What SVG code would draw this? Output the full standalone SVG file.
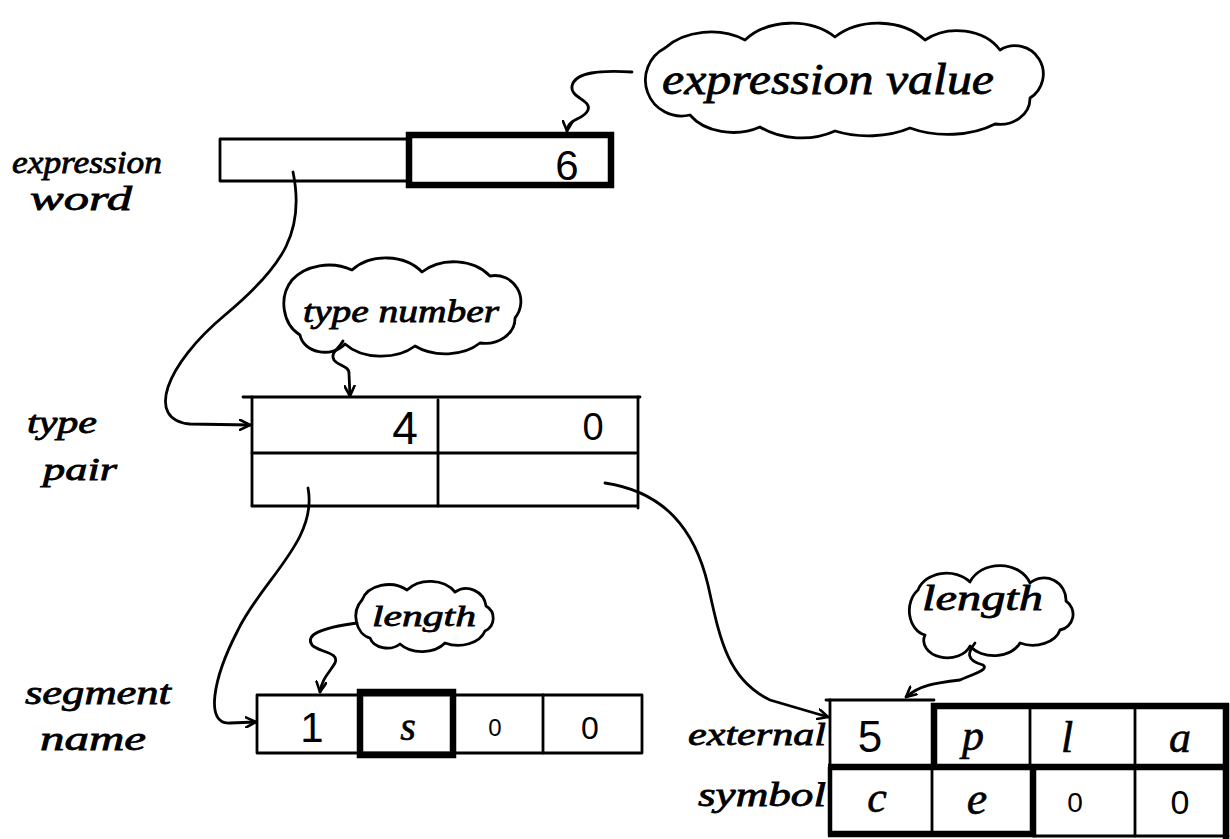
<svg xmlns="http://www.w3.org/2000/svg" width="1230" height="839" viewBox="0 0 1230 839">
  <defs>
    <style>
      .ln { stroke: #000; stroke-width: 2.8; fill: none; stroke-linecap: round; stroke-linejoin: round; }
      .bold { stroke: #000; stroke-width: 6.5; fill: none; stroke-linejoin: miter; }
      .cloud { stroke: #000; stroke-width: 2.8; fill: none; stroke-linejoin: round; }
      .conn { stroke: #000; stroke-width: 2.8; fill: none; stroke-linecap: round; marker-end: url(#arrow); }
      .hand { font-family: "Liberation Serif", "DejaVu Serif", serif; font-style: italic; fill: #000; stroke: #000; stroke-width: 0.8; }
      .digit { font-family: "Liberation Sans", "DejaVu Sans", sans-serif; fill: #000; text-anchor: middle; }
      .chr { font-family: "Liberation Serif", "DejaVu Serif", serif; font-style: italic; fill: #000; text-anchor: middle; stroke: #000; stroke-width: 0.6; }
    </style>
    <marker id="arrow" viewBox="0 0 12 12" refX="11" refY="6" markerWidth="12" markerHeight="12" markerUnits="userSpaceOnUse" orient="auto">
      <path d="M1,1 L11,6 L1,11" fill="none" stroke="#000" stroke-width="2.6" stroke-linecap="round" stroke-linejoin="round"/>
    </marker>
  </defs>

  <rect width="1230" height="839" fill="#fff"/>

  <!-- expression word: two halves, value half outlined heavily -->
  <g id="expression-word">
    <rect class="ln" x="220" y="139" width="189" height="42"/>
    <rect class="bold" x="409" y="135" width="202" height="50"/>
    <text class="digit" x="567" y="180" font-size="42">6</text>
    <text class="hand" x="12" y="173" font-size="32" textLength="150" lengthAdjust="spacingAndGlyphs">expression</text>
    <text class="hand" x="30" y="210" font-size="34" textLength="102" lengthAdjust="spacingAndGlyphs">word</text>
  </g>

  <!-- callout cloud for the value half -->
  <g id="cloud-expression-value">
    <path class="cloud" d="M690,115 A36 36 0 0 1 665,48 A60 45 0 0 1 745,40 A60 45 0 0 1 835,37 A60 45 0 0 1 925,40 A50 40 0 0 1 1000,50 A28 28 0 0 1 1030,98 A30 26 0 0 1 995,124 A70 40 0 0 1 910,128 A70 40 0 0 1 835,131 A60 40 0 0 1 760,127 A50 35 0 0 1 690,115 Z"/>
    <text class="hand" x="662" y="94" font-size="44" textLength="332" lengthAdjust="spacingAndGlyphs">expression value</text>
  </g>

  <!-- type pair: 2 x 2 cells -->
  <g id="type-pair">
    <line class="ln" x1="243" y1="397" x2="640" y2="397"/>
    <line class="ln" x1="252" y1="397" x2="252" y2="506"/>
    <line class="ln" x1="638" y1="397" x2="638" y2="508"/>
    <line class="ln" x1="252" y1="453" x2="636" y2="453"/>
    <line class="ln" x1="252" y1="506" x2="636" y2="506"/>
    <line class="ln" x1="438" y1="400" x2="438" y2="506"/>
    <text class="digit" x="405" y="444" font-size="46">4</text>
    <text class="digit" x="593" y="440" font-size="38">0</text>
    <text class="hand" x="27" y="433" font-size="32" textLength="70" lengthAdjust="spacingAndGlyphs">type</text>
    <text class="hand" x="43" y="480" font-size="32" textLength="74" lengthAdjust="spacingAndGlyphs">pair</text>
  </g>

  <g id="cloud-type-number">
    <path class="cloud" d="M300,335 A30 35 0 0 1 292,280 A45 35 0 0 1 352,270 A45 35 0 0 1 422,272 A45 35 0 0 1 490,276 A26 26 0 0 1 515,318 A30 25 0 0 1 480,343 A45 30 0 0 1 415,346 A45 30 0 0 1 345,344 A25 20 0 0 1 300,335 Z"/>
    <text class="hand" x="303" y="322" font-size="32" textLength="196" lengthAdjust="spacingAndGlyphs">type number</text>
  </g>

  <!-- segment name: length byte then characters -->
  <g id="segment-name">
    <rect class="ln" x="257" y="695" width="385" height="58"/>
    <line class="ln" x1="543" y1="695" x2="543" y2="753"/>
    <rect class="bold" x="360" y="692" width="93" height="63"/>
    <text class="digit" x="312" y="742" font-size="42">1</text>
    <text class="chr" x="408" y="740" font-size="40">s</text>
    <text class="digit" x="495" y="736" font-size="24">0</text>
    <text class="digit" x="590" y="739" font-size="32">0</text>
    <text class="hand" x="25" y="704" font-size="34" textLength="146" lengthAdjust="spacingAndGlyphs">segment</text>
    <text class="hand" x="40" y="750" font-size="34" textLength="106" lengthAdjust="spacingAndGlyphs">name</text>
  </g>

  <g id="cloud-length-segment">
    <path class="cloud" d="M370,638 A18 22 0 0 1 362,600 A28 22 0 0 1 407,590 A30 24 0 0 1 455,592 A20 20 0 0 1 486,606 A14 14 0 0 1 485,631 A28 20 0 0 1 445,643 A28 20 0 0 1 400,644 A18 14 0 0 1 370,638 Z"/>
    <text class="hand" x="372" y="626" font-size="30" textLength="104" lengthAdjust="spacingAndGlyphs">length</text>
  </g>

  <!-- external symbol: length byte then "place" padded with zeros -->
  <g id="external-symbol">
    <line class="ln" x1="826" y1="700" x2="934" y2="700"/>
    <line class="ln" x1="830" y1="700" x2="830" y2="767"/>
    <line x1="830" y1="767" x2="830" y2="836" stroke="#000" stroke-width="4.5"/>
    <line class="ln" x1="932" y1="767" x2="932" y2="834"/>
    <line class="ln" x1="1030" y1="706" x2="1030" y2="767"/>
    <line class="ln" x1="1135" y1="706" x2="1135" y2="836"/>
    <line class="ln" x1="1033" y1="836" x2="1228" y2="836"/>
    <path class="bold" d="M934,767 L934,706 L1226,706 L1226,839"/>
    <line class="bold" x1="828" y1="767" x2="1229" y2="767"/>
    <line class="bold" x1="1033" y1="767" x2="1033" y2="836"/>
    <line class="bold" x1="828" y1="834" x2="1036" y2="834"/>
    <text class="digit" x="870" y="752" font-size="44">5</text>
    <text class="chr" x="973" y="750" font-size="44">p</text>
    <text class="chr" x="1067" y="752" font-size="44">l</text>
    <text class="chr" x="1180" y="752" font-size="44">a</text>
    <text class="chr" x="877" y="812" font-size="44">c</text>
    <text class="chr" x="977" y="814" font-size="46">e</text>
    <text class="digit" x="1075" y="812" font-size="28">0</text>
    <text class="digit" x="1180" y="814" font-size="34">0</text>
    <text class="hand" x="688" y="745" font-size="32" textLength="138" lengthAdjust="spacingAndGlyphs">external</text>
    <text class="hand" x="698" y="806" font-size="34" textLength="128" lengthAdjust="spacingAndGlyphs">symbol</text>
  </g>

  <g id="cloud-length-external">
    <path class="cloud" d="M925,635 A20 25 0 0 1 918,590 A30 24 0 0 1 970,582 A32 26 0 0 1 1030,583 A22 22 0 0 1 1066,601 A16 16 0 0 1 1060,630 A28 20 0 0 1 1020,643 A28 20 0 0 1 970,646 A22 16 0 0 1 925,635 Z"/>
    <text class="hand" x="922" y="610" font-size="36" textLength="121" lengthAdjust="spacingAndGlyphs">length</text>
  </g>

  <!-- pointers and callout leaders -->
  <g id="connectors">
    <path class="conn" d="M293,172 C305,230 285,265 225,315 C165,365 145,420 190,424 L250,425"/>
    <path class="conn" d="M308,488 C318,540 262,580 238,630 C212,680 205,725 230,723 L256,722"/>
    <path class="conn" d="M605,483 C665,492 695,530 708,585 C720,640 728,680 770,700 L828,717"/>
    <path class="conn" d="M632,72 C600,70 575,72 572,86 C570,98 592,100 588,110 C584,120 568,118 567,131"/>
    <path class="conn" d="M343,341 C338,350 330,352 334,360 C338,366 350,366 349,374 L350,396"/>
    <path class="conn" d="M357,623 C320,628 305,635 312,645 C318,652 340,652 335,663 C330,672 322,678 320,692"/>
    <path class="conn" d="M975,643 C968,652 965,660 983,665 C990,670 970,675 960,680 C935,683 920,685 906,697"/>
  </g>
</svg>
